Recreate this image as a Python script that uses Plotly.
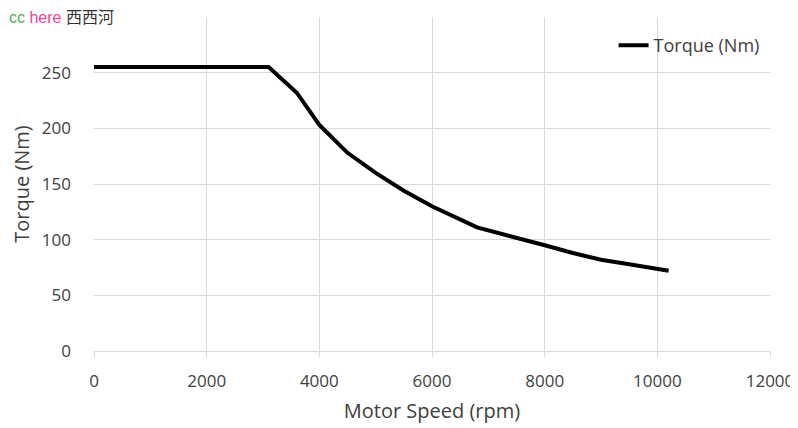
import plotly.graph_objects as go

# data
speed_rpm = [0, 1000, 2000, 3100, 3600, 4000, 4500, 5000, 5500, 6000, 6800, 7500, 8000, 8500, 9000, 9500, 10200]
torque_nm = [255, 255, 255, 255, 232, 203, 178, 160, 144, 130, 111, 102, 95, 88, 82, 78, 72]

x_ticks = [0, 2000, 4000, 6000, 8000, 10000, 12000]
x_labels = ["0", "2000", "4000", "6000", "8000", "10000", "12000"]
y_ticks = [0, 50, 100, 150, 200, 250, 300]

font = "Open Sans, Liberation Sans, sans-serif"
grid = "#d9d9d9"

fig = go.Figure()
fig.add_trace(go.Scatter(x=speed_rpm, y=torque_nm, mode="lines", name="Torque (Nm)",
                         line=dict(color="black", width=4)))

# the page puts the figure 8px in from the top-left, so size it to fit
fig.update_layout(
    width=790, height=420,
    margin=dict(l=86, r=28, t=9, b=77),
    paper_bgcolor="white", plot_bgcolor="white",
    font=dict(family=font, size=17, color="#404040"),
    showlegend=True,
    legend=dict(x=0.992, y=0.97, xanchor="right", yanchor="top",
                bgcolor="rgba(0,0,0,0)", font=dict(size=18, color="#404040")),
)
fig.update_xaxes(range=[0, 12000], tickvals=x_ticks, ticktext=x_labels, showgrid=True,
                 gridcolor=grid, gridwidth=1, automargin=False,
                 showline=True, linecolor=grid, linewidth=1, ticks="outside", tickcolor=grid,
                 ticklen=5, zeroline=False, ticklabelstandoff=10,
                 title=dict(text="Motor Speed (rpm)", font=dict(size=20), standoff=12))
fig.update_yaxes(range=[0, 300], tickvals=y_ticks, showgrid=True, gridcolor=grid, gridwidth=1,
                 showline=False, zeroline=False, ticks="", ticklabelstandoff=22, automargin=False,
                 title=dict(text="Torque (Nm)", font=dict(size=20), standoff=6))

# watermark in the top-left corner
fig.add_annotation(xref="paper", yref="paper", x=0, y=1.0, xanchor="left", yanchor="top",
                   xshift=-86, yshift=9, showarrow=False, bgcolor="white", borderpad=0,
                   text="<span style='color:#4caf50'>cc</span> <span style='color:#f0449a'>here</span> "
                        "<span style='color:#333333'>西西河</span>",
                   font=dict(family="Liberation Sans, Noto Sans CJK SC", size=16))

fig.write_html("out.html")
